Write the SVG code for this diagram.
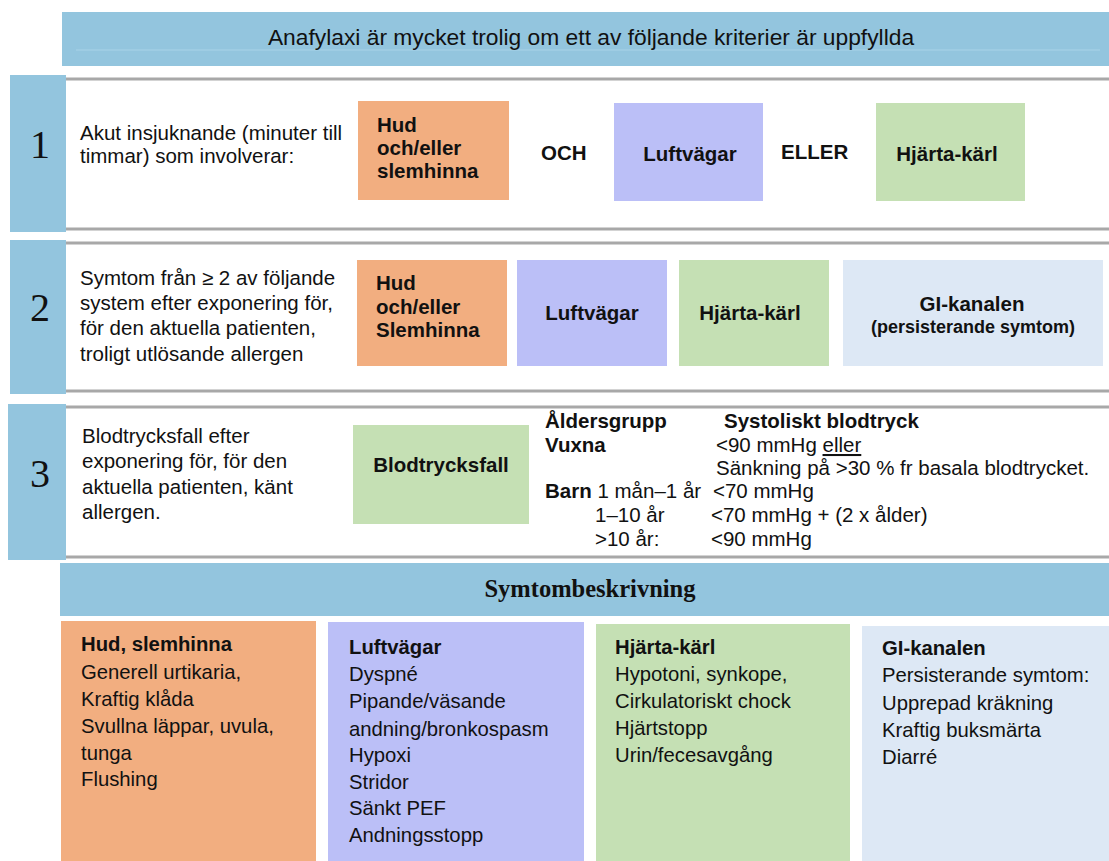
<svg xmlns="http://www.w3.org/2000/svg" width="1109" height="861" viewBox="0 0 1109 861">
<style>
text{font-family:"Liberation Sans",Arial,sans-serif;fill:#111;}
.t{font-size:20.5px;}
.b{font-size:20.5px;font-weight:bold;}
.s{font-size:20.3px;}
.sb{font-size:20.3px;font-weight:bold;}
.num{font-family:"Liberation Serif","Times New Roman",serif;font-size:40px;}
.ser{font-family:"Liberation Serif","Times New Roman",serif;font-size:24.5px;font-weight:bold;}
.mid{text-anchor:middle;}
.blue{fill:#93c5de;}
.org{fill:#f2ae80;}
.pur{fill:#bbbff7;}
.grn{fill:#c5e0b4;}
.lbl{fill:#dde8f5;}
.bord{stroke:#a8a8a8;stroke-width:3;fill:none;}
</style>
<rect width="1109" height="861" fill="#ffffff"/>
<g id="header">
<rect class="blue" x="62" y="12" width="1047" height="54"/>
<line x1="76" y1="50" x2="1100" y2="50" stroke="#a9d3e8" stroke-width="1"/>
<text class="mid" x="591" y="45" style="font-size:22.8px">Anafylaxi är mycket trolig om ett av följande kriterier är uppfyllda</text>
</g>
<g id="row1">
<rect class="blue" x="10" y="75" width="56" height="157"/>
<line class="bord" x1="66" y1="79" x2="1109" y2="79"/>
<line class="bord" x1="66" y1="229" x2="1109" y2="229"/>
<text class="num" x="30" y="158">1</text>
<text class="t" x="80" y="140">Akut insjuknande (minuter till</text>
<text class="t" x="80" y="163">timmar) som involverar:</text>
<rect class="org" x="358" y="101" width="151" height="99"/>
<text class="b" x="377" y="132">Hud</text>
<text class="b" x="377" y="155">och/eller</text>
<text class="b" x="377" y="178">slemhinna</text>
<text class="b" x="541" y="160">OCH</text>
<rect class="pur" x="614" y="103" width="149" height="98"/>
<text class="b mid" x="690" y="161">Luftvägar</text>
<text class="b" x="781" y="159">ELLER</text>
<rect class="grn" x="876" y="103" width="149" height="98"/>
<text class="b mid" x="947" y="161">Hjärta-kärl</text>
</g>
<g id="row2">
<rect class="blue" x="10" y="240" width="56" height="154"/>
<line class="bord" x1="66" y1="243" x2="1109" y2="243"/>
<line class="bord" x1="66" y1="391" x2="1109" y2="391"/>
<text class="num" x="30" y="321">2</text>
<text class="t" x="80" y="285">Symtom från ≥ 2 av följande</text>
<text class="t" x="80" y="310">system efter exponering för,</text>
<text class="t" x="80" y="335">för den aktuella patienten,</text>
<text class="t" x="80" y="361">troligt utlösande allergen</text>
<rect class="org" x="357" y="260" width="150" height="106"/>
<text class="b" x="376" y="290">Hud</text>
<text class="b" x="376" y="314">och/eller</text>
<text class="b" x="376" y="337">Slemhinna</text>
<rect class="pur" x="517" y="260" width="150" height="106"/>
<text class="b mid" x="592" y="320">Luftvägar</text>
<rect class="grn" x="679" y="260" width="150" height="106"/>
<text class="b mid" x="750" y="320">Hjärta-kärl</text>
<rect class="lbl" x="843" y="260" width="260" height="106"/>
<text class="b mid" x="972" y="311">GI-kanalen</text>
<text class="mid" x="973" y="333" style="font-size:18px;font-weight:bold">(persisterande symtom)</text>
</g>
<g id="row3">
<rect class="blue" x="8" y="404" width="58" height="156"/>
<line class="bord" x1="66" y1="407" x2="1109" y2="407"/>
<line class="bord" x1="66" y1="557" x2="1109" y2="557"/>
<text class="num" x="30" y="487">3</text>
<text class="t" x="82" y="443">Blodtrycksfall efter</text>
<text class="t" x="82" y="468">exponering för, för den</text>
<text class="t" x="82" y="494">aktuella patienten, känt</text>
<text class="t" x="82" y="519">allergen.</text>
<rect class="grn" x="353" y="425" width="176" height="99"/>
<text class="b mid" x="441" y="472">Blodtrycksfall</text>
<text class="b" x="545" y="428">Åldersgrupp</text>
<text class="b" x="724" y="428">Systoliskt blodtryck</text>
<text class="b" x="545" y="452">Vuxna</text>
<text class="t" x="716" y="452">&lt;90 mmHg <tspan text-decoration="underline">eller</tspan></text>
<text class="t" x="716" y="475">Sänkning på &gt;30 % fr basala blodtrycket.</text>
<text class="t" x="545" y="498"><tspan font-weight="bold">Barn</tspan> 1 mån–1 år</text>
<text class="t" x="713" y="498">&lt;70 mmHg</text>
<text class="t" x="595" y="522">1–10 år</text>
<text class="t" x="711" y="522">&lt;70 mmHg + (2 x ålder)</text>
<text class="t" x="595" y="546">&gt;10 år:</text>
<text class="t" x="711" y="546">&lt;90 mmHg</text>
</g>
<g id="symtom-header">
<rect class="blue" x="60" y="563" width="1049" height="53"/>
<text class="ser mid" x="590" y="597">Symtombeskrivning</text>
</g>
<g id="box-hud">
<rect class="org" x="61" y="621" width="255" height="240"/>
<text class="sb" x="81" y="651">Hud, slemhinna</text>
<text class="s" x="81" y="679">Generell urtikaria,</text>
<text class="s" x="81" y="706">Kraftig klåda</text>
<text class="s" x="81" y="733">Svullna läppar, uvula,</text>
<text class="s" x="81" y="760">tunga</text>
<text class="s" x="81" y="786">Flushing</text>
</g>
<g id="box-luft">
<rect class="pur" x="328" y="622" width="256" height="239"/>
<text class="sb" x="349" y="654">Luftvägar</text>
<text class="s" x="349" y="681">Dyspné</text>
<text class="s" x="349" y="708">Pipande/väsande</text>
<text class="s" x="349" y="736">andning/bronkospasm</text>
<text class="s" x="349" y="762">Hypoxi</text>
<text class="s" x="349" y="789">Stridor</text>
<text class="s" x="349" y="815">Sänkt PEF</text>
<text class="s" x="349" y="842">Andningsstopp</text>
</g>
<g id="box-hjarta">
<rect class="grn" x="596" y="624" width="254" height="237"/>
<text class="sb" x="615" y="654">Hjärta-kärl</text>
<text class="s" x="615" y="681">Hypotoni, synkope,</text>
<text class="s" x="615" y="708">Cirkulatoriskt chock</text>
<text class="s" x="615" y="735">Hjärtstopp</text>
<text class="s" x="615" y="762">Urin/fecesavgång</text>
</g>
<g id="box-gi">
<rect class="lbl" x="862" y="626" width="247" height="235"/>
<text class="sb" x="882" y="655">GI-kanalen</text>
<text class="s" x="882" y="682">Persisterande symtom:</text>
<text class="s" x="882" y="710">Upprepad kräkning</text>
<text class="s" x="882" y="737">Kraftig buksmärta</text>
<text class="s" x="882" y="764">Diarré</text>
</g>
<g id="connectors"></g>
</svg>
